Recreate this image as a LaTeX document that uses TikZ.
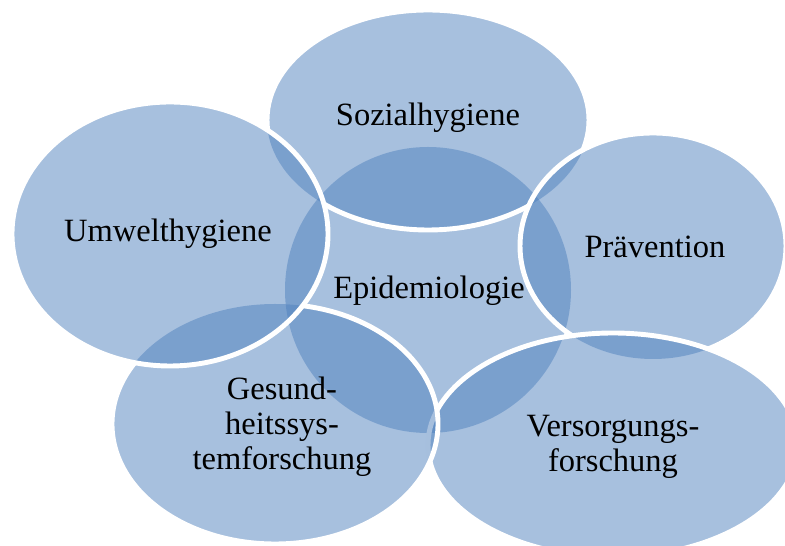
\documentclass[tikz,border=0pt]{standalone}
\usepackage{fontspec}
\setmainfont{Liberation Serif}
\definecolor{vennblue}{HTML}{4F81BD}
\tikzset{
  venn/.style={fill=vennblue, fill opacity=0.5},
  rim/.style={draw=white, line width=2.8pt},
  venntext/.style={font=\fontsize{18.5}{19.8}\selectfont, align=center, text=black}
}
\begin{document}
\begin{tikzpicture}[x=0.02cm, y=-0.02cm]
\useasboundingbox (0,0) rectangle (785,546);
\clip (0,0) rectangle (785,546);

% centres of the ellipses
\coordinate (epi) at (428,290);
\coordinate (soz) at (428,120);
\coordinate (prae) at (653,246);
\coordinate (vers) at (613,445);
\coordinate (ges) at (275,424);
\coordinate (umw) at (170,234);

% centre, below everything
\fill[venn] (epi) ellipse [x radius=143, y radius=143];

% top
\fill[venn] (soz) ellipse [x radius=161, y radius=110];
\begin{scope}[even odd rule]
  \clip (0,0) rectangle (785,546)
    (umw) ellipse [x radius=158, y radius=132]
    (prae) ellipse [x radius=133, y radius=113];
  \draw[rim] (soz) ellipse [x radius=161, y radius=110];
\end{scope}

% right
\fill[venn] (prae) ellipse [x radius=133, y radius=113];
\begin{scope}[even odd rule]
  \clip (0,0) rectangle (785,546)
    (vers) ellipse [x radius=185, y radius=112];
  \draw[rim] (prae) ellipse [x radius=133, y radius=113];
\end{scope}

% bottom right
\fill[venn] (vers) ellipse [x radius=185, y radius=112];
\draw[rim] (vers) ellipse [x radius=185, y radius=112];

% bottom left
\fill[venn] (ges) ellipse [x radius=163, y radius=120];
\begin{scope}[even odd rule]
  \clip (0,0) rectangle (785,546)
    (umw) ellipse [x radius=158, y radius=132];
  \draw[rim] (ges) ellipse [x radius=163, y radius=120];
\end{scope}

% left, on top
\fill[venn] (umw) ellipse [x radius=158, y radius=132];
\draw[rim] (umw) ellipse [x radius=158, y radius=132];

% labels
\node[venntext] (tepi) at (429,291) {Epidemiologie};
\node[venntext] (tsoz) at (428,118) {Sozialhygiene};
\node[venntext] (tprae) at (655,247) {Prävention};
\node[venntext] (tvers) at (613,447) {Versorgungs-\\forschung};
\node[venntext] (tges) at (282,427) {Gesund-\\heitssys-\\temforschung};
\node[venntext] (tumw) at (168,234) {Umwelthygiene};

\end{tikzpicture}
\end{document}
